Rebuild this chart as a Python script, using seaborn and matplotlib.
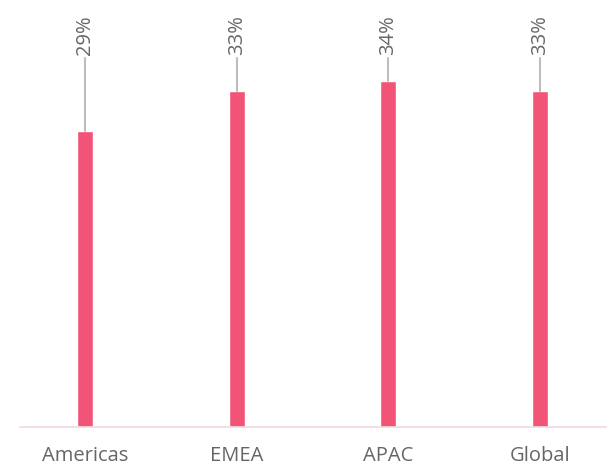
import matplotlib
matplotlib.use("Agg")
import matplotlib.pyplot as plt
import seaborn as sns
import pandas as pd

categories = ["Americas", "EMEA", "APAC", "Global"]
values = [29, 33, 34, 33]
value_labels = ["29%", "33%", "34%", "33%"]

sns.set_style("white")
plt.rcParams['font.family'] = ['Open Sans', 'DejaVu Sans']

BAR = "#F25477"
GREY = "#666666"

fig = plt.figure(figsize=(6.16, 4.66), dpi=100)
ax = fig.add_axes([20/616, 39/466, 586/616, 427/466])

df = pd.DataFrame({"cat": categories, "val": values})
sns.barplot(data=df, x="cat", y="val", color=BAR, saturation=1, width=0.105, ax=ax)

ax.set_xlim(-0.428, 3.434)
ax.set_ylim(0, 41.9)
label_y = 36.25
for i, (v, t) in enumerate(zip(values, value_labels)):
    ax.plot([i, i], [v, label_y], color="#BDBDBD", lw=1.5, zorder=1)
    ax.text(i, label_y + 0.25, t, rotation=90, ha="center", va="bottom",
            fontsize=14.5, color=GREY)

for s in ["top", "right", "left"]:
    ax.spines[s].set_visible(False)
ax.spines["bottom"].set_color("#F2D9E1")
ax.spines["bottom"].set_linewidth(1.2)
ax.set_yticks([])
ax.set_xlabel("")
ax.set_ylabel("")
ax.tick_params(axis="x", length=0, pad=14, labelsize=14.5, labelcolor=GREY)

fig.savefig("out.png", dpi=100)
